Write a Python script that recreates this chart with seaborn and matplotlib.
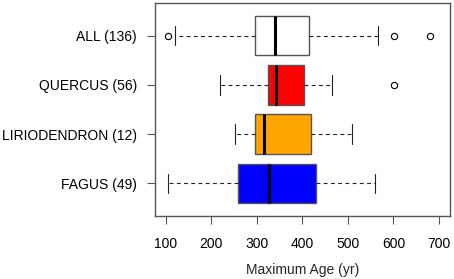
import matplotlib
matplotlib.use("Agg")
import matplotlib.pyplot as plt
import seaborn as sns
import pandas as pd

groups = ["ALL (136)", "QUERCUS (56)", "LIRIODENDRON (12)", "FAGUS (49)"]
colors = ["white", "#FF0000", "#FFA500", "#0000FF"]
all_ages = [105, 121, 296, 296, 340, 340, 340, 414, 414, 414, 565, 601, 680]
quercus_ages = [219, 325, 325, 343, 343, 403, 403, 465, 601]
lirio_ages = [252, 296, 315, 419, 510]
fagus_ages = [106, 258, 327, 430, 560]
xticks = [100, 200, 300, 400, 500, 600, 700]

sns.set_style("white")
plt.rcParams["font.family"] = ["Liberation Sans", "DejaVu Sans"]

rows = []
for g, ages in zip(groups, [all_ages, quercus_ages, lirio_ages, fagus_ages]):
    for a in ages:
        rows.append({"group": g, "age": a})
df = pd.DataFrame(rows)

fig = plt.figure(figsize=(4.54, 2.79), dpi=100)
ax = fig.add_axes([0.341, 0.226, 0.650, 0.763])

sns.boxplot(data=df, x="age", y="group", hue="group", order=groups,
            hue_order=groups, palette=colors, width=0.8, whis=1.5,
            linecolor="#555555", linewidth=1.0, legend=False, ax=ax,
            saturation=1, fliersize=4.5,
            flierprops=dict(marker="o", markerfacecolor="none",
                            markeredgecolor="black", markeredgewidth=0.8),
            medianprops=dict(color="black", linewidth=2.2),
            whiskerprops=dict(color="#222222", linestyle=(0, (3.5, 3)), linewidth=0.8),
            capprops=dict(color="#222222", linewidth=0.8))

ax.set_xlim(76, 724)
ax.set_ylim(3.66, -0.66)
ax.set_xticks(xticks)
ax.set_xlabel("Maximum Age (yr)", fontsize=10, labelpad=9)
ax.set_ylabel("")
ax.tick_params(axis="both", which="major", bottom=True, left=True,
               length=6, width=0.8, color="#555555", labelsize=10,
               labelcolor="black", direction="out")
ax.tick_params(axis="x", pad=9)
ax.tick_params(axis="y", pad=7)
for s in ax.spines.values():
    s.set_color("#555555")
    s.set_linewidth(1.0)

plt.savefig("out.png", dpi=100)
